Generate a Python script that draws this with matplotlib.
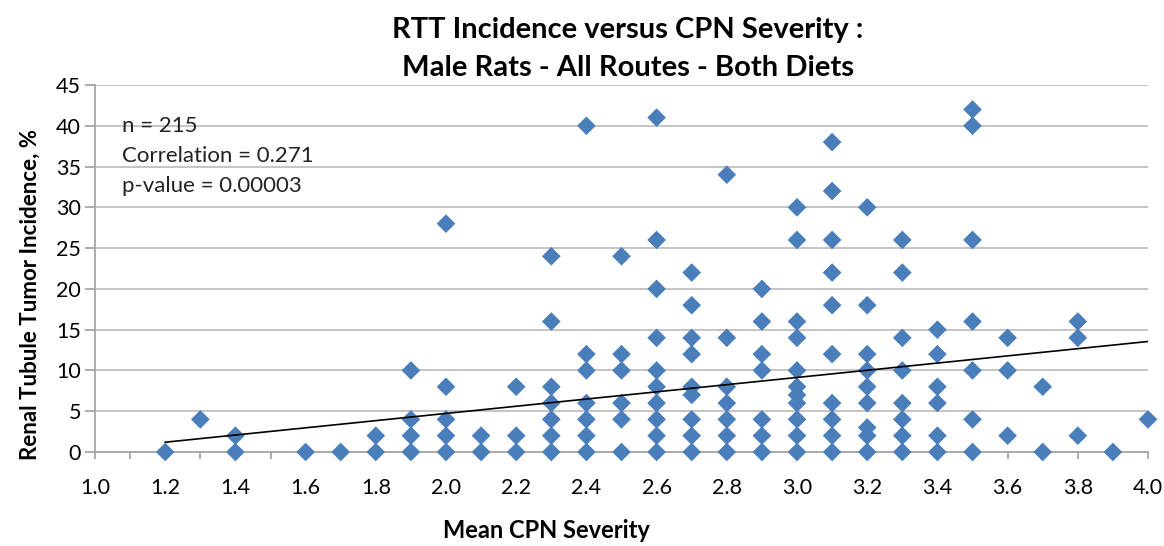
import matplotlib
matplotlib.use("Agg")
import matplotlib.pyplot as plt
from matplotlib.ticker import MultipleLocator, FormatStrFormatter
import numpy as np

plt.rcParams['font.family'] = ['Lato', 'DejaVu Sans']

# ---- data ----
severity = (
    [1.2] + [1.3] + [1.4] * 2 + [1.6] + [1.7] + [1.8] * 2 + [1.9] * 4 + [2.0] * 5 +
    [2.1] * 2 + [2.2] * 3 + [2.3] * 7 + [2.4] * 7 + [2.5] * 6 + [2.6] * 10 +
    [2.7] * 9 + [2.8] * 7 + [2.9] * 7 + [3.0] * 11 + [3.1] * 10 + [3.2] * 9 +
    [3.3] * 8 + [3.4] * 6 + [3.5] * 7 + [3.6] * 3 + [3.7] * 2 + [3.8] * 3 +
    [3.9] + [4.0]
)
incidence = (
    [0] + [4] + [0, 2] + [0] + [0] + [0, 2] + [0, 2, 4, 10] + [0, 2, 4, 8, 28] +
    [0, 2] + [0, 2, 8] + [0, 2, 4, 6, 8, 16, 24] + [0, 2, 4, 6, 10, 12, 40] +
    [0, 4, 6, 10, 12, 24] + [0, 2, 4, 6, 8, 10, 14, 20, 26, 41] +
    [0, 2, 4, 7, 8, 12, 14, 18, 22] + [0, 2, 4, 6, 8, 14, 34] +
    [0, 2, 4, 10, 12, 16, 20] + [0, 2, 4, 6, 7, 8, 10, 14, 16, 26, 30] +
    [0, 2, 4, 6, 12, 18, 22, 26, 32, 38] + [0, 2, 3, 6, 8, 10, 12, 18, 30] +
    [0, 2, 4, 6, 10, 14, 22, 26] + [0, 2, 6, 8, 12, 15] +
    [0, 4, 10, 16, 26, 40, 42] + [2, 10, 14] + [0, 8] + [2, 14, 16] +
    [0] + [4]
)
trend_x = [1.2, 4.0]
trend_y = [1.2, 13.55]
stats_lines = ["n = 215", "Correlation = 0.271", "p-value = 0.00003"]
title_lines = ["RTT Incidence versus CPN Severity :", "Male Rats - All Routes - Both Diets"]
x_label = "Mean CPN Severity"
y_label = "Renal Tubule Tumor Incidence, %"

W, H = 1164, 546
fig = plt.figure(figsize=(W / 100, H / 100), dpi=100)
left, right, top, bottom = 95, 1148, 85, 452
ax = fig.add_axes([left / W, 1 - bottom / H, (right - left) / W, (bottom - top) / H])

grid_c = "#BFBFBF"
ax.set_xlim(1.0, 4.0)
ax.set_ylim(0, 45)
ax.yaxis.set_major_locator(MultipleLocator(5))
ax.xaxis.set_major_locator(MultipleLocator(0.2))
ax.xaxis.set_minor_locator(MultipleLocator(0.1))
ax.xaxis.set_major_formatter(FormatStrFormatter('%.1f'))
ax.grid(axis='y', color=grid_c, linewidth=1.3)
ax.set_axisbelow(True)
for s in ['top', 'right']:
    ax.spines[s].set_visible(False)
for s in ['left', 'bottom']:
    ax.spines[s].set_color("#A6A6A6")
    ax.spines[s].set_linewidth(1.3)
ax.tick_params(axis='y', which='both', direction='out', length=7, color="#A6A6A6",
               width=1.3, labelsize=15.5, pad=3)
ax.tick_params(axis='x', which='both', direction='out', length=5, color="#A6A6A6",
               width=1.3, labelsize=15.5, pad=14)

ax.scatter(severity, incidence, marker='D', s=9.5 ** 2, color="#4A7EBB",
           edgecolors='none', zorder=3, clip_on=False)
ax.plot(trend_x, trend_y, color='black', linewidth=1.2, zorder=4)

for i, line in enumerate(stats_lines):
    ax.text(122 / W, 1 - (126 + 30 * i) / H, line, transform=fig.transFigure,
            fontsize=16, va='center', ha='left', color='#222222')

for i, line in enumerate(title_lines):
    fig.text(628 / W, 1 - (30 + 38 * i) / H, line, fontsize=21, fontweight='bold',
             ha='center', va='center')

fig.text(30 / W, 1 - 294 / H, y_label, rotation=90, fontsize=16, fontweight='bold',
         ha='center', va='center')
fig.text(546 / W, 1 - 531 / H, x_label, fontsize=17, fontweight='bold',
         ha='center', va='center')

fig.savefig("out.png", dpi=100)
